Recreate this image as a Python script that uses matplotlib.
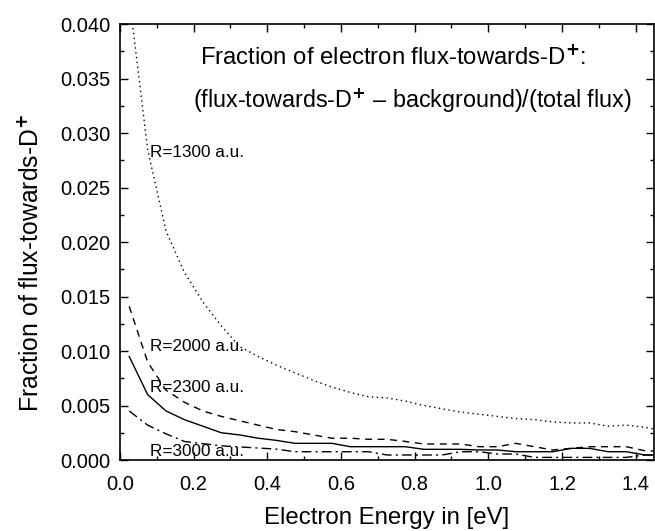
import matplotlib.pyplot as plt
from matplotlib.ticker import MultipleLocator

plt.rcParams['font.family'] = ['Liberation Sans', 'DejaVu Sans']
plt.rcParams['mathtext.fontset'] = 'custom'
plt.rcParams['mathtext.rm'] = 'Liberation Sans'
plt.rcParams['mathtext.it'] = 'Liberation Sans'

# Energie elektronu [eV]
energia = [0.025, 0.075, 0.125, 0.175, 0.225, 0.275, 0.325, 0.375, 0.425, 0.475,
           0.525, 0.575, 0.625, 0.675, 0.725, 0.775, 0.825, 0.875, 0.925, 0.975,
           1.025, 1.075, 1.125, 1.175, 1.225, 1.275, 1.325, 1.375, 1.425, 1.475]

r1300 = [0.0425, 0.0285, 0.0210, 0.0172, 0.0145, 0.0123, 0.0104, 0.0095, 0.0087, 0.0080,
         0.0073, 0.0067, 0.0062, 0.0058, 0.0057, 0.0054, 0.0050, 0.0047, 0.0044, 0.0042,
         0.0040, 0.0038, 0.0037, 0.0035, 0.0034, 0.0034, 0.0031, 0.0032, 0.0030, 0.0027]
r2000 = [0.0141, 0.0090, 0.0064, 0.0053, 0.0045, 0.0040, 0.0036, 0.0032, 0.0028, 0.0026,
         0.0023, 0.0020, 0.0020, 0.0019, 0.0019, 0.0017, 0.00147, 0.00147, 0.00147, 0.00122,
         0.00122, 0.00153, 0.00122, 0.00092, 0.00107, 0.00122, 0.00122, 0.00122, 0.00085, 0.0008]
r2300 = [0.0095, 0.0060, 0.0045, 0.0037, 0.0031, 0.0025, 0.0023, 0.0020, 0.0018, 0.00153,
         0.00153, 0.00153, 0.00122, 0.00122, 0.00122, 0.00122, 0.00098, 0.00098, 0.00098, 0.00092,
         0.00092, 0.00076, 0.00076, 0.00076, 0.00107, 0.00107, 0.00076, 0.00076, 0.00046, 0.00046]
r3000 = [0.0045, 0.0032, 0.0024, 0.0017, 0.0015, 0.0013, 0.0012, 0.0011, 0.0010, 0.00076,
         0.00076, 0.00076, 0.00076, 0.00076, 0.00046, 0.00046, 0.00046, 0.00046, 0.00076, 0.00076,
         0.00055, 0.00055, 0.00024, 0.00024, 0.00024, 0.00024, 0.00024, 0.00024, 0.00046, 0.00046]

etykiety = ["R=1300 a.u.", "R=2000 a.u.", "R=2300 a.u.", "R=3000 a.u."]

fig = plt.figure(figsize=(6.55, 5.31), dpi=100)
ax = fig.add_axes([0.1832, 0.1337, 0.8153, 0.8211])

ax.plot(energia, r1300, color='black', lw=1.0, linestyle=(0, (1, 2.5)))
ax.plot(energia, r2000, color='black', lw=1.0, linestyle=(0, (5, 4)))
ax.plot(energia, r2300, color='black', lw=1.0, linestyle='-')
ax.plot(energia, r3000, color='black', lw=1.0, linestyle=(0, (7, 3, 1.5, 3)))

# Podpisy krzywych
ax.text(0.081, 0.0282, etykiety[0], fontsize=12.3, va='center', ha='left')
ax.text(0.081, 0.0104, etykiety[1], fontsize=12.3, va='center', ha='left')
ax.text(0.081, 0.00667, etykiety[2], fontsize=12.3, va='center', ha='left')
ax.text(0.081, 0.00076, etykiety[3], fontsize=12.3, va='center', ha='left')

ax.text(0.217, 0.0369, "Fraction of electron flux-towards-D$^{\\mathbf{+}}$:", fontsize=17.2, va='center', ha='left')
ax.text(0.198, 0.0330, "(flux-towards-D$^{\\mathbf{+}}$ \u2013 background)/(total flux)", fontsize=16.8, va='center', ha='left')

ax.set_xlim(0, 1.45)
ax.set_ylim(0, 0.040)
ax.xaxis.set_major_locator(MultipleLocator(0.2))
ax.xaxis.set_minor_locator(MultipleLocator(0.1))
ax.yaxis.set_major_locator(MultipleLocator(0.005))
ax.yaxis.set_minor_locator(MultipleLocator(0.0025))
ax.yaxis.set_major_formatter(plt.FuncFormatter(lambda v, p: f"{v:.3f}"))
ax.xaxis.set_major_formatter(plt.FuncFormatter(lambda v, p: f"{v:.1f}"))
ax.tick_params(which='both', direction='in', top=True, right=True, labelsize=14.5, width=1.0)
ax.tick_params(which='major', length=6)
ax.tick_params(which='minor', length=3)
ax.tick_params(axis='x', which='major', pad=11)
ax.tick_params(axis='y', which='major', pad=7)
for s in ax.spines.values():
    s.set_linewidth(1.2)

ax.set_xlabel("Electron Energy in [eV]", fontsize=17.3, labelpad=9)
ax.set_ylabel("Fraction of flux-towards-D$^{\\mathbf{+}}$", fontsize=17.8)
ax.yaxis.set_label_coords(-0.144, 0.452)

fig.savefig("out.png", dpi=100)
